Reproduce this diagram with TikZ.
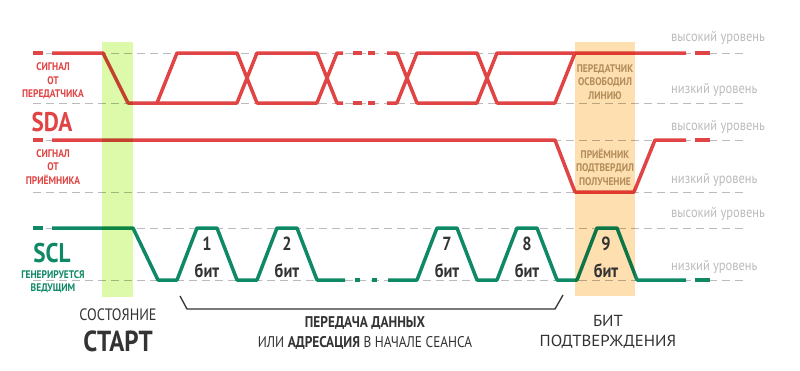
\documentclass[tikz,border=0pt]{standalone}
\usepackage{fontspec}
\setmainfont{PT Sans}[FakeStretch=0.86]
\newfontfamily\ancho{PT Sans}[FakeStretch=1.05]
\usepackage{tikz}
\usetikzlibrary{calc,positioning}
\definecolor{rojo}{HTML}{E04444}
\definecolor{verde}{HTML}{0F8866}
\definecolor{lima}{HTML}{DDF9AA}
\definecolor{naranja}{HTML}{FDDFB0}
\definecolor{marron}{HTML}{B48C5A}
\definecolor{gris}{HTML}{BBBBBB}
\definecolor{oscuro}{HTML}{333333}
\tikzset{
    nivel/.style={draw=gris,line width=0.8pt,dash pattern=on 8pt off 5pt},
    senalsda/.style={draw=rojo,line width=3.5pt,line join=round},
    senalscl/.style={draw=verde,line width=3.5pt,line join=round},
    banda/.style={blend mode=multiply},
    etiqueta/.style={inner sep=0pt,align=center,font=\bfseries\fontsize{11}{13.5}\selectfont},
    titulo/.style={inner sep=0pt,font=\bfseries\fontsize{27}{27}\selectfont},
    rotulo/.style={inner sep=0pt,anchor=west,text=gris,font=\fontsize{14.5}{14.5}\selectfont},
    bit/.style={inner sep=0pt,align=center,text=oscuro,font=\bfseries\fontsize{19}{27}\selectfont},
    nota/.style={inner sep=0pt,align=center,text=oscuro,font=\fontsize{15.5}{20}\selectfont},
}
\begin{document}
\begin{tikzpicture}[x=1pt,y=-1pt]
    \useasboundingbox (0,0) rectangle (800,370);

    % uroven'
    \path [nivel] (33,53) -- (745,53);
    \path [nivel] (33,103) -- (745,103);
    \path [nivel] (33,140) -- (745,140);
    \path [nivel] (33,192) -- (745,192);
    \path [nivel] (33,228) -- (745,228);
    \path [nivel] (33,280) -- (745,280);

    % SDA peredatchik
    \path [senalsda] (33,53) -- (43,53);
    \path [senalsda] (52,53) -- (103,53) -- (128,103) -- (237,103) -- (257,53) -- (317,53) -- (337,103) -- (343,103);
    \path [senalsda] (157,103) -- (177,53) -- (237,53) -- (257,103) -- (317,103) -- (337,53) -- (343,53);
    \path [senalsda] (353,53) -- (362,53) (368,53) -- (375,53);
    \path [senalsda] (353,103) -- (362,103) (368,103) -- (375,103);
    \path [senalsda] (387,53) -- (397,53) -- (417,103) -- (477,103) -- (497,53) -- (686,53);
    \path [senalsda] (387,103) -- (397,103) -- (417,53) -- (477,53) -- (497,103) -- (555,103) -- (575,53);
    \path [senalsda] (695,53) -- (710,53);

    % SDA priemnik
    \path [senalsda] (33,140) -- (43,140);
    \path [senalsda] (52,140) -- (555,140) -- (575,192) -- (634,192) -- (655,140) -- (686,140);
    \path [senalsda] (695,140) -- (710,140);

    % SCL
    \path [senalscl] (33,228) -- (43,228);
    \path [senalscl] (52,228) -- (133,228) -- (158,280) -- (177,280) -- (197,228) -- (217,228) -- (237,280)
        -- (257,280) -- (277,228) -- (297,228) -- (317,280) -- (345,280);
    \path [senalscl] (355,280) -- (360,280) (372,280) -- (377,280);
    \path [senalscl] (388,280) -- (417,280) -- (437,228) -- (457,228) -- (477,280) -- (497,280) -- (517,228)
        -- (537,228) -- (557,280) -- (577,280) -- (597,228) -- (617,228) -- (637,280) -- (686,280);
    \path [senalscl] (695,280) -- (710,280);

    % bandy
    \fill [banda,lima] (102,42) rectangle (133,297);
    \fill [banda,naranja] (575,42) rectangle (635,296);

    % skobka
    \coordinate (skA) at (180,296);
    \coordinate (skB) at (563,295);
    \draw [oscuro,line width=1.3pt] (skA) -- ++(7,13) -| ($(skB)+(-8,14)$) -- (skB);

    % podpisi sleva
    \node [etiqueta,text=rojo] (peredatchik) at (53,81) {СИГНАЛ\\ОТ\\ПЕРЕДАТЧИКА};
    \node [titulo,text=rojo] (sda) at (52,122) {SDA};
    \node [etiqueta,text=rojo] (priemnik) at (53,167) {СИГНАЛ\\ОТ\\ПРИЁМНИКА};
    \node [titulo,text=verde] (scl) at (52,253.5) {SCL};
    \node [etiqueta,text=verde] (vedushchiy) at (53,282) {ГЕНЕРИРУЕТСЯ\\ВЕДУЩИМ};

    % v orange band
    \node [etiqueta,text=marron] (osvobodil) at (605,82) {ПЕРЕДАТЧИК\\ОСВОБОДИЛ\\ЛИНИЮ};
    \node [etiqueta,text=marron] (podtverdil) at (605,167) {ПРИЁМНИК\\ПОДТВЕРДИЛ\\ПОЛУЧЕНИЕ};

    % urovni
    \node [rotulo] (vys1) at (671,38) {высокий уровень};
    \node [rotulo] (niz1) at (671,90) {низкий уровень};
    \node [rotulo] (vys2) at (671,127) {высокий уровень};
    \node [rotulo] (niz2) at (671,180) {низкий уровень};
    \node [rotulo] (vys3) at (671,214) {высокий уровень};
    \node [rotulo] (niz3) at (671,267) {низкий уровень};

    % bity
    \node [bit] (bit1) at (207,257) {1\\бит};
    \node [bit] (bit2) at (287,257) {2\\бит};
    \node [bit] (bit7) at (447,257) {7\\бит};
    \node [bit] (bit8) at (527,257) {8\\бит};
    \node [bit] (bit9) at (606,257) {9\\бит};

    % vnizu
    \node [nota,font=\fontsize{16.5}{16.5}\selectfont] (sostoyanie) at (118,315) {СОСТОЯНИЕ};
    \node [nota,below=9pt of sostoyanie,font=\bfseries\fontsize{29}{29}\selectfont] (start) {СТАРТ};
    \node [nota] (peredacha) at (365,333) {\textbf{ПЕРЕДАЧА ДАННЫХ}\\ИЛИ \textbf{АДРЕСАЦИЯ} В НАЧАЛЕ СЕАНСА};
    \node [nota,font=\ancho\fontsize{16}{19.5}\selectfont] (podtverzhdenie) at (608,332) {БИТ\\ПОДТВЕРЖДЕНИЯ};
\end{tikzpicture}
\end{document}
